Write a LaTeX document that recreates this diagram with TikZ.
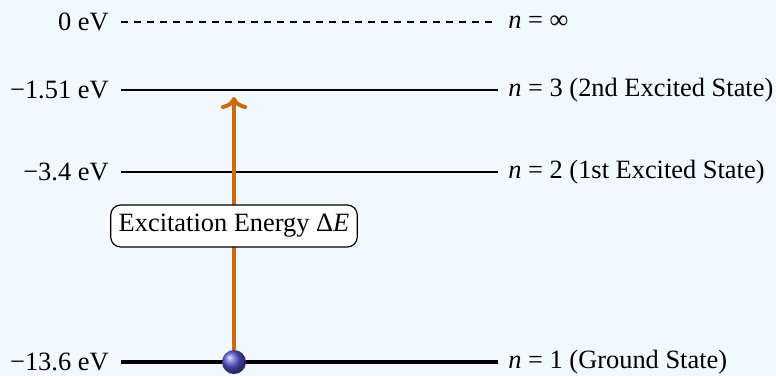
\documentclass[tikz,border=0pt]{standalone}
\usepackage{fontspec}
\setmainfont{Liberation Serif}
\usepackage{xcolor}
\usepackage{tikz}
\usetikzlibrary{arrows.meta,positioning,shadings}
\definecolor{Plate}{HTML}{F3F7FE}
\definecolor{Orange}{HTML}{CD6A10}
\definecolor{Ball}{HTML}{5656D6}
\tikzset{
  levelline/.style={line width=1pt, draw=black},
  groundline/.style={line width=2pt, draw=black},
  limitline/.style={line width=0.6pt, draw=black, dash pattern=on 3.5pt off 3pt},
  energylabel/.style={font=\fontsize{13.2}{15}\selectfont, inner sep=2pt},
  statelabel/.style={font=\fontsize{13.2}{15}\selectfont, inner sep=2pt},
  excitearrow/.style={-{To[length=6pt,width=13pt]}, line width=2pt, draw=Orange},
  energybox/.style={rounded corners=5pt, draw=black, fill=white, line width=0.6pt, inner sep=4pt, minimum height=21pt, font=\fontsize{13.2}{15}\selectfont},
  electron/.style={circle, shading=ball, ball color=Ball, minimum size=12pt, inner sep=0pt},
}
\begin{document}
\begin{tikzpicture}[x=0.5pt,y=-0.5pt]
\path[use as bounding box] (0,0) rectangle (776,376);
\fill[Plate] (0,0) rectangle (776,376);

% level ends
\coordinate (inf-l) at (121,22);  \coordinate (inf-r) at (498,22);
\coordinate (n3-l) at (121,90);   \coordinate (n3-r) at (498,90);
\coordinate (n2-l) at (121,172);  \coordinate (n2-r) at (498,172);
\coordinate (n1-l) at (121,362);  \coordinate (n1-r) at (498,362);

\draw[limitline] (inf-l) -- (inf-r);
\draw[levelline] (n3-l) -- (n3-r);
\draw[levelline] (n2-l) -- (n2-r);
\draw[groundline] (n1-l) -- (n1-r);

% energies
\node[energylabel,left=4pt of inf-l] (e-inf) {0 eV};
\node[energylabel,left=4pt of n3-l] (e3) {−1.51 eV};
\node[energylabel,left=4pt of n2-l] (e2) {−3.4 eV};
\node[energylabel,left=4pt of n1-l] (e1) {−13.6 eV};

% quantum numbers
\node[statelabel,right=3pt of inf-r] (s-inf) {\textit{n} = ∞};
\node[statelabel,right=3pt of n3-r] (s3) {\textit{n} = 3 (2nd Excited State)};
\node[statelabel,right=3pt of n2-r] (s2) {\textit{n} = 2 (1st Excited State)};
\node[statelabel,right=3pt of n1-r] (s1) {\textit{n} = 1 (Ground State)};

% excitation
\node[electron] (ball) at (234,362) {};
\coordinate (tip) at (234,97);
\draw[excitearrow] (ball.north) -- (tip);
\node[energybox] (gap) at (234,226) {Excitation Energy Δ\textit{E}};
\end{tikzpicture}
\end{document}
